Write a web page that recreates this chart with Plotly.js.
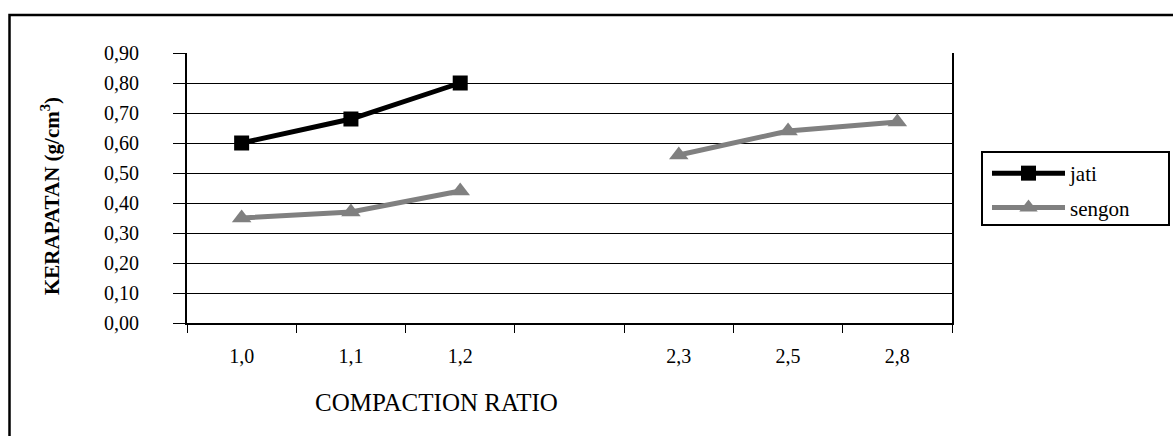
<!DOCTYPE html>
<html>
<head>
<meta charset="utf-8">
<script src="https://cdn.plot.ly/plotly-3.0.1.min.js"></script>
<style>html,body{margin:0;padding:0;background:#fff;}#chart{width:1173px;height:436px;}</style>
</head>
<body>
<div id="chart"></div>
<script>
// Data
const categories = ['1,0', '1,1', '1,2', '', '2,3', '2,5', '2,8'];
const jati = [0.60, 0.68, 0.80, null, null, null, null];
const sengon = [0.35, 0.37, 0.44, null, 0.56, 0.64, 0.67];
const yTicks = [0, 0.1, 0.2, 0.3, 0.4, 0.5, 0.6, 0.7, 0.8, 0.9];

const xIdx = categories.map((c, i) => i);
const labelIdx = xIdx.filter(i => categories[i] !== '');
const labelText = labelIdx.map(i => categories[i]);
const boundaries = categories.map((c, i) => i - 0.5).concat([categories.length - 0.5]);

const W = 1173, H = 436;
const L = 187, R = 952, T = 53, B = 323;
const px = x => (x - L) / (R - L);
const py = y => (B - y) / (B - T);

const serif = 'Liberation Serif, Times New Roman, serif';

const traces = [
  {
    x: xIdx, y: jati, name: 'jati', type: 'scatter', mode: 'lines+markers',
    connectgaps: false, legendgroup: 'a',
    line: {color: '#000000', width: 5},
    marker: {symbol: 'square', size: 15, color: '#000000'}
  },
  {
    x: xIdx, y: sengon, name: 'sengon', type: 'scatter', mode: 'lines+markers',
    connectgaps: false, legendgroup: 'b',
    line: {color: '#808080', width: 5},
    marker: {symbol: 'triangle-up', size: 17, color: '#808080'}
  }
];

const layout = {
  width: W, height: H,
  margin: {l: L, r: W - R, t: T, b: H - B, pad: 0},
  paper_bgcolor: '#ffffff', plot_bgcolor: '#ffffff',
  separators: ', ',
  font: {family: serif, size: 20, color: '#000000'},
  showlegend: true,
  legend: {
    x: px(987), xanchor: 'left', y: py(153), yanchor: 'top',
    borderwidth: 0, bgcolor: 'rgba(0,0,0,0)',
    font: {family: serif, size: 21, color: '#000000'},
    itemwidth: 73, traceorder: 'grouped', tracegroupgap: 4
  },
  xaxis: {
    type: 'linear', range: [-0.5, categories.length - 0.5],
    tickmode: 'array', tickvals: labelIdx, ticktext: labelText,
    ticks: '', showgrid: false, zeroline: false,
    showline: true, linecolor: '#000000', linewidth: 2,
    ticklabelstandoff: 14,
    tickfont: {family: serif, size: 20, color: '#000000'},
    minor: {tickmode: 'array', tickvals: boundaries, ticks: 'outside', ticklen: 8, tickcolor: '#000000', tickwidth: 1, showgrid: false}
  },
  yaxis: {
    range: [0, 0.9], tickmode: 'array', tickvals: yTicks, tickformat: '.2f',
    ticks: 'outside', ticklen: 12, tickcolor: '#000000', tickwidth: 1,
    showgrid: true, gridcolor: '#000000', gridwidth: 1,
    zeroline: false, showline: true, linecolor: '#000000', linewidth: 2, mirror: true,
    ticklabelstandoff: 30,
    tickfont: {family: serif, size: 20, color: '#000000'}
  },
  annotations: [
    {
      text: 'COMPACTION RATIO', xref: 'paper', yref: 'paper',
      x: px(436), y: py(402), xanchor: 'center', yanchor: 'middle', showarrow: false,
      font: {family: serif, size: 25, color: '#000000'}
    },
    {
      text: '<b>KERAPATAN (g/cm<sup>3</sup>)</b>', xref: 'paper', yref: 'paper',
      x: px(50), y: py(196), xanchor: 'center', yanchor: 'middle', showarrow: false,
      textangle: -90,
      font: {family: serif, size: 21, color: '#000000'}
    }
  ],
  shapes: [
    {
      type: 'rect', xref: 'paper', yref: 'paper', layer: 'below',
      x0: px(9.5), x1: px(W + 20), y0: py(H + 20), y1: py(15),
      line: {color: '#000000', width: 2.5}, fillcolor: 'rgba(0,0,0,0)'
    },
    {
      type: 'rect', xref: 'paper', yref: 'paper', layer: 'below',
      x0: px(982), x1: px(1169), y0: py(225), y1: py(152),
      line: {color: '#000000', width: 2}, fillcolor: '#ffffff'
    }
  ]
};

Plotly.newPlot('chart', traces, layout, {displayModeBar: false, staticPlot: true});
</script>
</body>
</html>
